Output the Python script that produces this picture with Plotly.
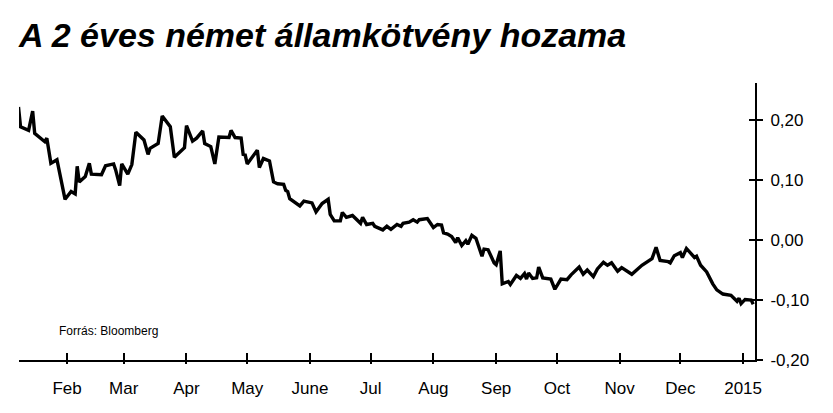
import plotly.graph_objects as go

dates = [
    "2014-01-08", "2014-01-09", "2014-01-13", "2014-01-15", "2014-01-16", "2014-01-21", "2014-01-22", "2014-01-24", "2014-01-27", "2014-01-31",
    "2014-02-03", "2014-02-05", "2014-02-06", "2014-02-07", "2014-02-10", "2014-02-12", "2014-02-13", "2014-02-18", "2014-02-20", "2014-02-24",
    "2014-02-25", "2014-02-27", "2014-02-28", "2014-03-03", "2014-03-05", "2014-03-07", "2014-03-11", "2014-03-13", "2014-03-14", "2014-03-18",
    "2014-03-20", "2014-03-24", "2014-03-26",
    "2014-03-31", "2014-04-01", "2014-04-04", "2014-04-06", "2014-04-09", "2014-04-10", "2014-04-13", "2014-04-15", "2014-04-17", "2014-04-22",
    "2014-04-23", "2014-04-25", "2014-04-28", "2014-04-29", "2014-04-30", "2014-05-01", "2014-05-06", "2014-05-07", "2014-05-09", "2014-05-12",
    "2014-05-14", "2014-05-16", "2014-05-19", "2014-05-20", "2014-05-21", "2014-05-22", "2014-05-27", "2014-05-29", "2014-06-02", "2014-06-04",
    "2014-06-07", "2014-06-10", "2014-06-11",
    "2014-06-13", "2014-06-16", "2014-06-17", "2014-06-19", "2014-06-22", "2014-06-24", "2014-06-26", "2014-06-27", "2014-06-29", "2014-07-02",
    "2014-07-03", "2014-07-07", "2014-07-09", "2014-07-11", "2014-07-14", "2014-07-16", "2014-07-17", "2014-07-20", "2014-07-22", "2014-07-24",
    "2014-07-25", "2014-07-29", "2014-08-01", "2014-08-03", "2014-08-05", "2014-08-06", "2014-08-08", "2014-08-10", "2014-08-12", "2014-08-13",
    "2014-08-15", "2014-08-17", "2014-08-18", "2014-08-20", "2014-08-22", "2014-08-25",
    "2014-08-26", "2014-08-28", "2014-08-31", "2014-09-01", "2014-09-03", "2014-09-04", "2014-09-07", "2014-09-08", "2014-09-09", "2014-09-11",
    "2014-09-13", "2014-09-15", "2014-09-16", "2014-09-17", "2014-09-19", "2014-09-21", "2014-09-22", "2014-09-24", "2014-09-28", "2014-09-30",
    "2014-10-03", "2014-10-06", "2014-10-08", "2014-10-12", "2014-10-14", "2014-10-16", "2014-10-19", "2014-10-21", "2014-10-24", "2014-10-26",
    "2014-10-28", "2014-10-31", "2014-11-02", "2014-11-07",
    "2014-11-12", "2014-11-17", "2014-11-19", "2014-11-21", "2014-11-25", "2014-11-26", "2014-11-28", "2014-12-01", "2014-12-02", "2014-12-04",
    "2014-12-08", "2014-12-09", "2014-12-11", "2014-12-14", "2014-12-17", "2014-12-19", "2014-12-22", "2014-12-26", "2014-12-29", "2014-12-30",
    "2014-12-31", "2015-01-02", "2015-01-05", "2015-01-06",
]

yields = [
    0.222, 0.189, 0.183, 0.215, 0.178, 0.164, 0.170, 0.128, 0.134, 0.068,
    0.081, 0.077, 0.123, 0.097, 0.106, 0.128, 0.110, 0.109, 0.124, 0.127,
    0.117, 0.091, 0.127, 0.110, 0.126, 0.180, 0.167, 0.143, 0.153, 0.161,
    0.207, 0.189, 0.138,
    0.154, 0.191, 0.165, 0.170, 0.182, 0.161, 0.156, 0.127, 0.172, 0.171,
    0.183, 0.171, 0.170, 0.143, 0.142, 0.127, 0.150, 0.121, 0.136, 0.132,
    0.097, 0.094, 0.093, 0.083, 0.081, 0.069, 0.057, 0.065, 0.062, 0.047,
    0.061, 0.068, 0.043,
    0.032, 0.032, 0.046, 0.038, 0.041, 0.035, 0.028, 0.038, 0.026, 0.028,
    0.023, 0.017, 0.023, 0.018, 0.026, 0.023, 0.028, 0.030, 0.034, 0.030,
    0.034, 0.036, 0.021, 0.026, 0.025, 0.012, 0.010, 0.006, -0.004, 0.004,
    -0.009, -0.001, -0.007, 0.008, 0.003, -0.027,
    -0.015, -0.016, -0.038, -0.041, -0.018, -0.073, -0.069, -0.074, -0.069, -0.059,
    -0.064, -0.056, -0.065, -0.055, -0.064, -0.063, -0.045, -0.063, -0.065, -0.082,
    -0.065, -0.066, -0.058, -0.045, -0.057, -0.050, -0.061, -0.048, -0.037, -0.042,
    -0.038, -0.052, -0.046, -0.057,
    -0.042, -0.031, -0.012, -0.034, -0.036, -0.038, -0.026, -0.021, -0.029, -0.014,
    -0.029, -0.027, -0.042, -0.053, -0.073, -0.083, -0.090, -0.092, -0.102, -0.097,
    -0.106, -0.099, -0.100, -0.107,
]

x_tick_vals = ["2014-02-01", "2014-03-01", "2014-04-01", "2014-05-01", "2014-06-01", "2014-07-01",
               "2014-08-01", "2014-09-01", "2014-10-01", "2014-11-01", "2014-12-01", "2015-01-01"]
x_tick_text = ["Feb", "Mar", "Apr", "May", "June", "Jul", "Aug", "Sep", "Oct", "Nov", "Dec", "2015"]

y_tick_vals = [-0.2, -0.1, 0.0, 0.1, 0.2]
y_tick_text = ["-0,20", "-0,10", "0,00", "0,10", "0,20"]

title_text = "A 2 éves német államkötvény hozama"
source_text = "Forrás: Bloomberg"

x_range = ["2014-01-08 06:00", "2015-01-06 21:00"]
y_range = [-0.2, 0.262]

tick_font = dict(family="Liberation Sans, Arial, sans-serif", size=17, color="#000000")

fig = go.Figure()
fig.add_trace(go.Scatter(x=dates, y=yields, mode="lines",
                         line=dict(color="#000000", width=3.4), showlegend=False,
                         hoverinfo="skip"))
# helper trace for the second (overlay) axes that draw the crossing tick parts
fig.add_trace(go.Scatter(x=dates, y=yields, mode="lines", xaxis="x2", yaxis="y2",
                         line=dict(color="rgba(0,0,0,0)", width=0), showlegend=False,
                         hoverinfo="skip"))

fig.update_layout(
    width=833, height=413,
    margin=dict(l=19, r=78, t=83, b=53),
    paper_bgcolor="white", plot_bgcolor="white",
    title=dict(text=title_text, x=19 / 833, xanchor="left", xref="container",
               y=1 - 35 / 413, yanchor="middle", yref="container",
               font=dict(family="Liberation Sans, Arial, sans-serif",
                         size=34, color="#000000", weight="bold", style="italic")),
    xaxis=dict(type="date", range=x_range, tickvals=x_tick_vals, ticktext=x_tick_text,
               showgrid=False, zeroline=False, showline=True, linecolor="#000000", linewidth=2,
               ticks="inside", ticklen=7, tickwidth=2, tickcolor="#000000",
               tickfont=tick_font, ticklabelstandoff=12),
    yaxis=dict(range=y_range, side="right", tickvals=y_tick_vals, ticktext=y_tick_text,
               showgrid=False, zeroline=False, showline=True, linecolor="#000000", linewidth=2,
               ticks="outside", ticklen=6, tickwidth=2, tickcolor="#000000",
               tickfont=tick_font, ticklabelstandoff=4),
    xaxis2=dict(type="date", range=x_range, tickvals=x_tick_vals, overlaying="x", anchor="y2",
                side="bottom", showgrid=False, zeroline=False, showline=False,
                ticks="outside", ticklen=3, tickwidth=2, tickcolor="#000000",
                showticklabels=False),
    yaxis2=dict(range=y_range, tickvals=y_tick_vals, overlaying="y", anchor="x2", side="right",
                showgrid=False, zeroline=False, showline=False,
                ticks="inside", ticklen=6, tickwidth=2, tickcolor="#000000",
                showticklabels=False),
    annotations=[dict(text=source_text, xref="paper", yref="paper",
                      x=(57 - 19) / 736, y=(360 - 331) / 277, xanchor="left", yanchor="middle",
                      showarrow=False,
                      font=dict(family="Liberation Sans, Arial, sans-serif", size=12, color="#000000"))],
)

fig.write_html("out.html", config={"displayModeBar": False},
               post_script="document.body.style.margin='0';document.body.style.padding='0';")
